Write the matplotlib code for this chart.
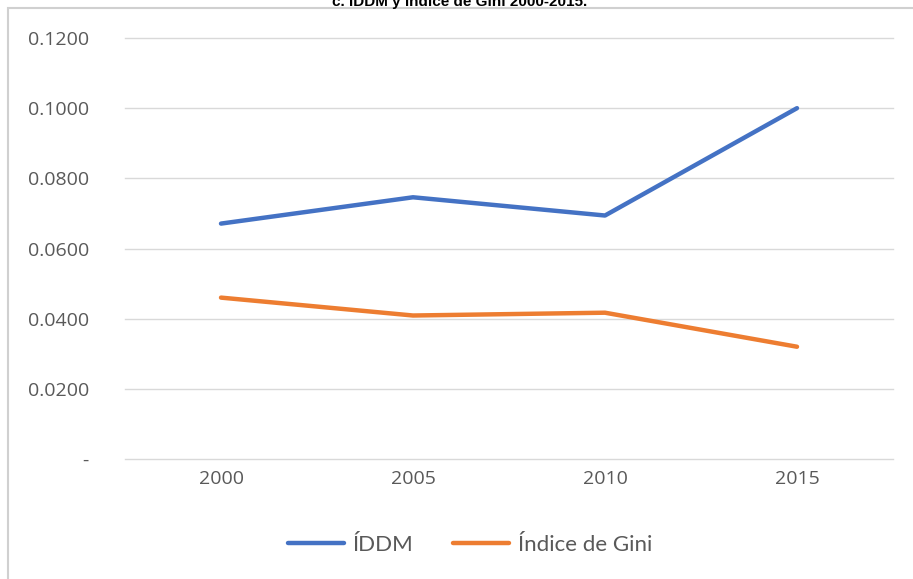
import matplotlib.pyplot as plt
from matplotlib.patches import Rectangle

years = ['2000', '2005', '2010', '2015']
iddm = [0.0671, 0.0746, 0.0694, 0.1000]
gini = [0.0460, 0.0409, 0.0417, 0.0320]
yticks = [0.0, 0.02, 0.04, 0.06, 0.08, 0.10, 0.12]
ytick_labels = ['-', '0.0200', '0.0400', '0.0600', '0.0800', '0.1000', '0.1200']

W, H = 913, 579
fig = plt.figure(figsize=(W / 100, H / 100), dpi=100)
ax = fig.add_axes([125 / W, 1 - 459 / H, 768 / W, (459 - 38) / H])

x = range(len(years))
ax.plot(x, iddm, color='#4472c4', lw=3.2, solid_capstyle='round', label='ÍDDM')
ax.plot(x, gini, color='#ed7d31', lw=3.2, solid_capstyle='round', label='Índice de Gini')

ax.set_xlim(-0.5, 3.5)
ax.set_ylim(0, 0.12)
ax.set_xticks(list(x))
ax.set_xticklabels(years)
ax.set_yticks(yticks)
ax.set_yticklabels(ytick_labels)
ax.tick_params(length=0, labelsize=14, labelcolor='#595959', pad=8)
ax.tick_params(axis='y', pad=26)
for lbl in ax.get_xticklabels() + ax.get_yticklabels():
    lbl.set_family('Open Sans')
ax.grid(axis='y', color='#d9d9d9', lw=1)
for gl in ax.get_ygridlines():
    gl.set_clip_on(False)
ax.set_axisbelow(True)
for s in ax.spines.values():
    s.set_visible(False)

leg = fig.legend(loc='center', bbox_to_anchor=(470 / W, 1 - 545 / H), ncol=2,
                 frameon=False, handlelength=2.5, handletextpad=0.4, columnspacing=1.8,
                 prop={'family': 'Lato', 'size': 16})
for t in leg.get_texts():
    t.set_color('#595959')

# outer frame of the chart box
fig.patches.append(Rectangle((8 / W, -0.1), 1.2, 1 - 8 / H + 0.1, transform=fig.transFigure,
                             fill=False, edgecolor='#d0d0d0', lw=1.5))

fig.text(460 / W, 1 - 1 / H, 'c. ÍDDM y índice de Gini 2000-2015.', ha='center', va='center',
         fontsize=11, fontweight='bold', family='Liberation Sans', color='black')

fig.savefig('out.png', dpi=100)
